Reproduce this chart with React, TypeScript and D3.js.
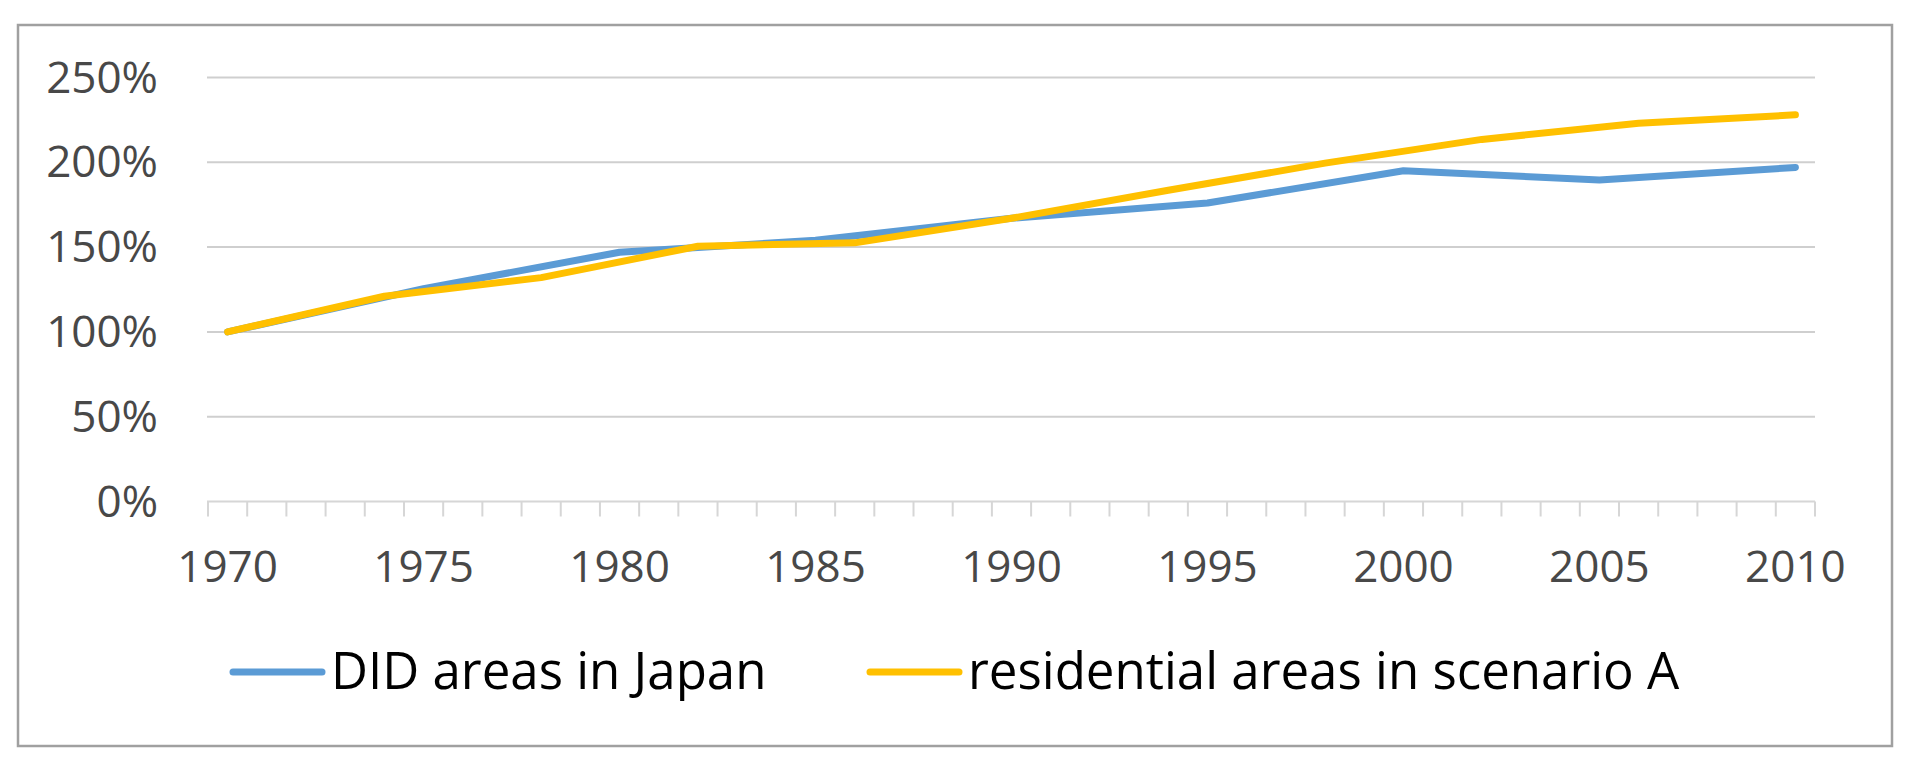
import React, {useEffect, useRef} from 'react';
import * as d3 from 'd3';

// categories on the x axis (one per year)
const years: number[] = d3.range(1970, 2011);
const yearLabels: number[] = [1970, 1975, 1980, 1985, 1990, 1995, 2000, 2005, 2010];
const yTicks: number[] = [0, 50, 100, 150, 200, 250];

// DID areas in Japan (census every 5 years), % of 1970
const didYears: number[] = [1970, 1975, 1980, 1985, 1990, 1995, 2000, 2005, 2010];
const didValues: number[] = [100, 125.5, 147, 154, 167, 176, 195, 189.5, 197];

// residential areas in scenario A (every 4 years), % of 1970
const scenYears: number[] = [1970, 1974, 1978, 1982, 1986, 1990, 1994, 1998, 2002, 2006, 2010];
const scenValues: number[] = [100, 121, 132, 150.5, 152.5, 167, 183.5, 199.5, 213.5, 223, 228];

const seriesNames: string[] = ['DID areas in Japan', 'residential areas in scenario A'];
const seriesColors: string[] = ['#5B9BD5', '#FFC000'];

const WIDTH = 1919;
const HEIGHT = 771;
const FONT = '"Open Sans", "Noto Sans", sans-serif';

const App: React.FC = () => {
    const svgRef = useRef<SVGSVGElement | null>(null);

    useEffect(() => {
        if (svgRef.current) {
            drawChart();
        }
    }, []);

    const drawChart = () => {
        const svg = d3.select(svgRef.current).attr('width', WIDTH).attr('height', HEIGHT);
        svg.selectAll('*').remove();

        // outer frame
        svg.append('rect')
            .attr('x', 18)
            .attr('y', 25)
            .attr('width', 1874)
            .attr('height', 721)
            .attr('fill', 'white')
            .attr('stroke', '#a0a0a0')
            .attr('stroke-width', 2.5);

        const x = d3.scaleBand<number>().domain(years).range([208, 1815]).padding(0);
        const y = d3.scaleLinear().domain([0, 250]).range([501.5, 77.5]);
        const cx = (yr: number) => (x(yr) as number) + x.bandwidth() / 2;

        // horizontal gridlines
        svg.append('g')
            .selectAll('line')
            .data(yTicks.filter((t) => t > 0))
            .enter()
            .append('line')
            .attr('x1', 207)
            .attr('x2', 1815)
            .attr('y1', (d) => y(d))
            .attr('y2', (d) => y(d))
            .attr('stroke', '#cfcfcf')
            .attr('stroke-width', 2);

        // y labels
        svg.append('g')
            .selectAll('text')
            .data(yTicks)
            .enter()
            .append('text')
            .attr('x', 158)
            .attr('y', (d) => y(d) + 15)
            .attr('text-anchor', 'end')
            .style('font-family', FONT)
            .style('font-size', '44px')
            .style('fill', '#484848')
            .text((d) => d + '%');

        // category axis with a tick on each band boundary
        const axis = svg.append('g');
        axis.append('line')
            .attr('x1', 207)
            .attr('x2', 1815)
            .attr('y1', y(0))
            .attr('y2', y(0))
            .attr('stroke', '#d6d6d6')
            .attr('stroke-width', 2);
        const boundaries = years.map((yr) => x(yr) as number).concat([x.range()[1]]);
        axis.selectAll('line.tick')
            .data(boundaries)
            .enter()
            .append('line')
            .attr('class', 'tick')
            .attr('x1', (d) => d)
            .attr('x2', (d) => d)
            .attr('y1', y(0))
            .attr('y2', y(0) + 15)
            .attr('stroke', '#d6d6d6')
            .attr('stroke-width', 2);
        axis.selectAll('text')
            .data(yearLabels)
            .enter()
            .append('text')
            .attr('x', (d) => cx(d))
            .attr('y', 582)
            .attr('text-anchor', 'middle')
            .style('font-family', FONT)
            .style('font-size', '44px')
            .style('fill', '#484848')
            .text((d) => d);

        const line = d3.line<[number, number]>()
            .x((d) => cx(d[0]))
            .y((d) => y(d[1]));

        const series: [number, number][][] = [
            didYears.map((yr, i) => [yr, didValues[i]] as [number, number]),
            scenYears.map((yr, i) => [yr, scenValues[i]] as [number, number]),
        ];

        svg.append('g')
            .selectAll('path')
            .data(series)
            .enter()
            .append('path')
            .attr('d', (d) => line(d) as string)
            .attr('fill', 'none')
            .attr('stroke', (_d, i) => seriesColors[i])
            .attr('stroke-width', 7)
            .attr('stroke-linejoin', 'round')
            .attr('stroke-linecap', 'round');

        // legend
        const legendX = [233, 870];
        const legend = svg.append('g');
        seriesNames.forEach((name, i) => {
            legend.append('line')
                .attr('x1', legendX[i])
                .attr('x2', legendX[i] + 89)
                .attr('y1', 672)
                .attr('y2', 672)
                .attr('stroke', seriesColors[i])
                .attr('stroke-width', 7)
                .attr('stroke-linecap', 'round');
            legend.append('text')
                .attr('x', legendX[i] + 98)
                .attr('y', 689)
                .style('font-family', FONT)
                .style('font-size', '51px')
                .style('fill', '#000')
                .text(name);
        });
    };

    return (
        <svg ref={svgRef} style={{position: 'absolute', left: 0, top: 0, display: 'block'}}></svg>
    );
};

export default App;
